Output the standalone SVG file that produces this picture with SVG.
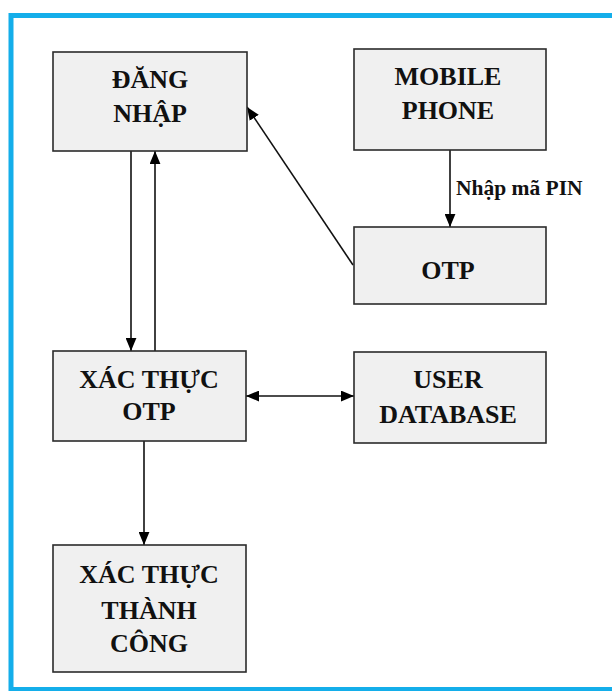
<svg xmlns="http://www.w3.org/2000/svg" width="612" height="691" viewBox="0 0 612 691">
<style>
.box{fill:#f0f0f0;stroke:#2b2b2b;stroke-width:1.6}
.lbl{font-family:"Times New Roman","Liberation Serif",serif;font-weight:700;font-size:26px;fill:#111;text-anchor:middle}
.small{font-family:"Times New Roman","Liberation Serif",serif;font-weight:700;font-size:21.5px;fill:#111}
.con{stroke:#111;stroke-width:1.6;fill:none}
</style>
<defs>
<marker id="ah" viewBox="0 0 12 10" refX="12" refY="5" markerWidth="13" markerHeight="11" markerUnits="userSpaceOnUse" orient="auto">
<path d="M0,0 L12,5 L0,10 Z" fill="#000"/>
</marker>
<marker id="ahs" viewBox="0 0 12 10" refX="0" refY="5" markerWidth="13" markerHeight="11" markerUnits="userSpaceOnUse" orient="auto">
<path d="M12,0 L0,5 L12,10 Z" fill="#000"/>
</marker>
</defs>
<rect x="0" y="0" width="612" height="691" fill="#ffffff"/>
<rect id="frame" x="11" y="15.5" width="640" height="674" fill="none" stroke="#14aeea" stroke-width="5"/>

<g id="connectors">
<line class="con" x1="131" y1="151" x2="131" y2="351" marker-end="url(#ah)"/>
<line class="con" x1="155" y1="351" x2="155" y2="151" marker-end="url(#ah)"/>
<line class="con" x1="353" y1="265" x2="247" y2="107" marker-end="url(#ah)"/>
<line class="con" x1="450" y1="150" x2="450" y2="227" marker-end="url(#ah)"/>
<line class="con" x1="246" y1="396" x2="354" y2="396" marker-start="url(#ahs)" marker-end="url(#ah)"/>
<line class="con" x1="144" y1="441" x2="144" y2="545" marker-end="url(#ah)"/>
<text class="small" x="456" y="195">Nhập mã PIN</text>
</g>

<g id="dang-nhap">
<rect class="box" x="53" y="52" width="194" height="99"/>
<text class="lbl" x="150" y="88">ĐĂNG</text>
<text class="lbl" x="150" y="121.5">NHẬP</text>
</g>

<g id="mobile-phone">
<rect class="box" x="354" y="49" width="192" height="101"/>
<text class="lbl" x="448" y="85">MOBILE</text>
<text class="lbl" x="448" y="119">PHONE</text>
</g>

<g id="otp">
<rect class="box" x="354" y="227" width="192" height="77"/>
<text class="lbl" x="448" y="279">OTP</text>
</g>

<g id="xac-thuc-otp">
<rect class="box" x="53" y="351" width="193" height="90"/>
<text class="lbl" x="149" y="388">XÁC THỰC</text>
<text class="lbl" x="149" y="420">OTP</text>
</g>

<g id="user-database">
<rect class="box" x="354" y="352" width="192" height="91"/>
<text class="lbl" x="448" y="388">USER</text>
<text class="lbl" x="448" y="423">DATABASE</text>
</g>

<g id="xac-thuc-thanh-cong">
<rect class="box" x="53" y="545" width="193" height="127"/>
<text class="lbl" x="149" y="583">XÁC THỰC</text>
<text class="lbl" x="149" y="619">THÀNH</text>
<text class="lbl" x="149" y="652">CÔNG</text>
</g>
</svg>
